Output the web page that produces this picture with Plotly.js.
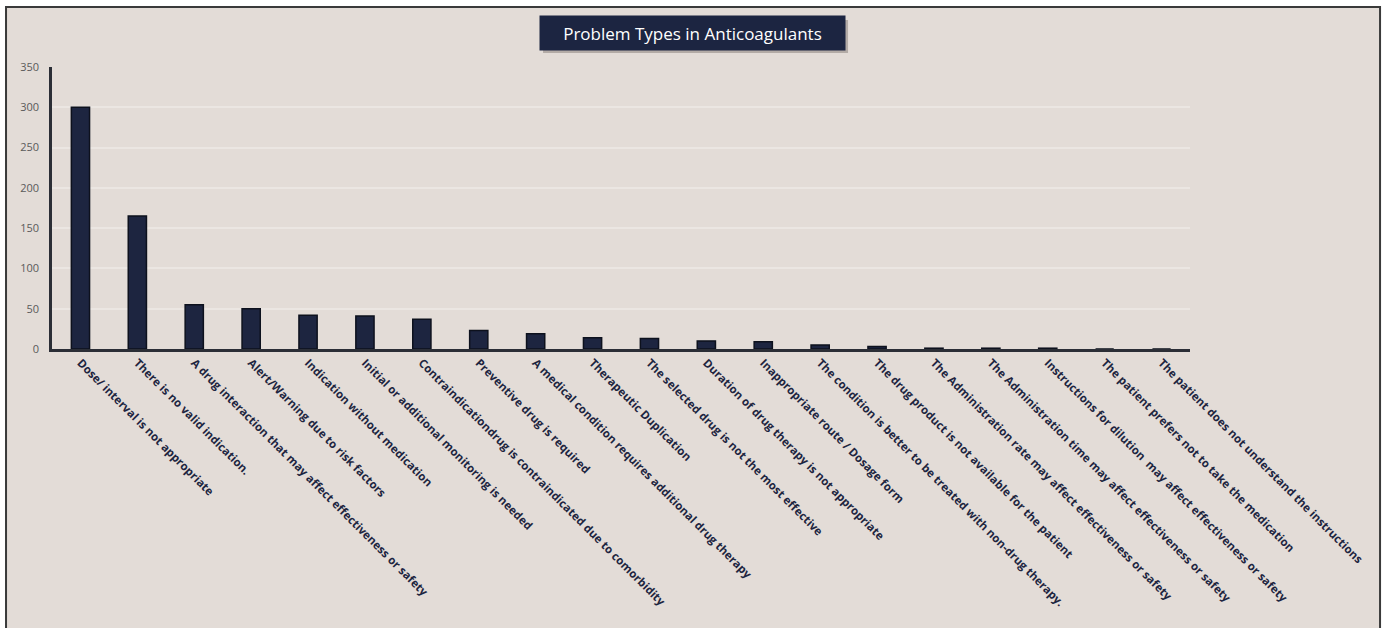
<!DOCTYPE html>
<html>
<head>
<meta charset="utf-8">
<script src="https://cdn.plot.ly/plotly-3.0.1.min.js"></script>
<style>
  html, body { margin: 0; padding: 0; background: #ffffff; }
  #chart { width: 1386px; height: 628px; }
</style>
</head>
<body>
<div id="chart"></div>
<script>
const categories = [
  "Dose/ interval is not appropriate",
  "There is no valid indication.",
  "A drug interaction that may affect effectiveness or safety",
  "Alert/Warning due to risk factors",
  "Indication without medication",
  "Initial or additional monitoring is needed",
  "Contraindicationdrug is contraindicated due to comorbidity",
  "Preventive drug is required",
  "A medical condition requires additional drug therapy",
  "Therapeutic Duplication",
  "The selected drug is not the most effective",
  "Duration of drug therapy is not appropriate",
  "Inappropriate route / Dosage form",
  "The condition is better to be treated with non-drug therapy.",
  "The drug product is not available for the patient",
  "The Administration rate may affect effectiveness or safety",
  "The Administration time may affect effectiveness or safety",
  "Instructions for dilution  may affect effectiveness or safety",
  "The patient prefers not to take the medication",
  "The patient does not understand the instructions"
];
const counts = [300, 165, 55, 50, 42, 41, 37, 23, 19, 14, 13, 10, 9, 5, 3, 1, 1, 1, 0, 0];
const yTicks = [0, 50, 100, 150, 200, 250, 300, 350];
const chartTitle = "Problem Types in Anticoagulants";

const trace = {
  type: 'bar',
  x: categories,
  y: counts,
  marker: { color: '#1d2540', line: { color: '#0d111d', width: 1.5 } },
  hoverinfo: 'x+y'
};

const layout = {
  width: 1386,
  height: 628,
  margin: { l: 52, r: 196, t: 67, b: 279 },
  paper_bgcolor: '#ffffff',
  plot_bgcolor: 'rgba(0,0,0,0)',
  bargap: 0.68,
  showlegend: false,
  xaxis: {
    type: 'category',
    tickangle: 45,
    tickfont: { family: 'Open Sans, sans-serif', size: 11.5, color: '#1d2540', weight: 'bold' },
    showline: true,
    linecolor: '#2b2e36',
    linewidth: 2.5,
    ticks: '',
    showgrid: false,
    zeroline: false
  },
  yaxis: {
    range: [0, 350],
    tickvals: yTicks,
    ticktext: yTicks.map(String),
    tickfont: { family: 'Open Sans, sans-serif', size: 11, color: '#5a5a5a' },
    showline: true,
    linecolor: '#2b2e36',
    linewidth: 2.5,
    ticks: '',
    ticklabelstandoff: 8,
    showgrid: true,
    gridcolor: '#ebe6e2',
    gridwidth: 2,
    zeroline: false
  },
  shapes: [
    {
      type: 'rect', xref: 'paper', yref: 'paper', layer: 'below',
      x0: -0.0404, x1: 1.1670, y0: -1.2, y1: 1.2128,
      fillcolor: '#e3dcd7', line: { color: '#3a3a3a', width: 2 }
    },
    {
      type: 'rect', xref: 'paper', yref: 'paper', layer: 'below',
      x0: 0.4315, x1: 0.6995, y0: 1.0496, y1: 1.1667,
      fillcolor: 'rgba(90,80,75,0.35)', line: { width: 0 }
    }
  ],
  annotations: [
    {
      text: chartTitle,
      xref: 'paper', yref: 'paper',
      x: 0.5624, y: 1.1206,
      xanchor: 'center', yanchor: 'middle',
      showarrow: false,
      font: { family: 'Open Sans, sans-serif', size: 17, color: '#ffffff' },
      bgcolor: '#1c2541',
      borderpad: 6,
      width: 293,
      height: 22
    }
  ]
};

Plotly.newPlot('chart', [trace], layout, { displayModeBar: false, responsive: false });
</script>
</body>
</html>
